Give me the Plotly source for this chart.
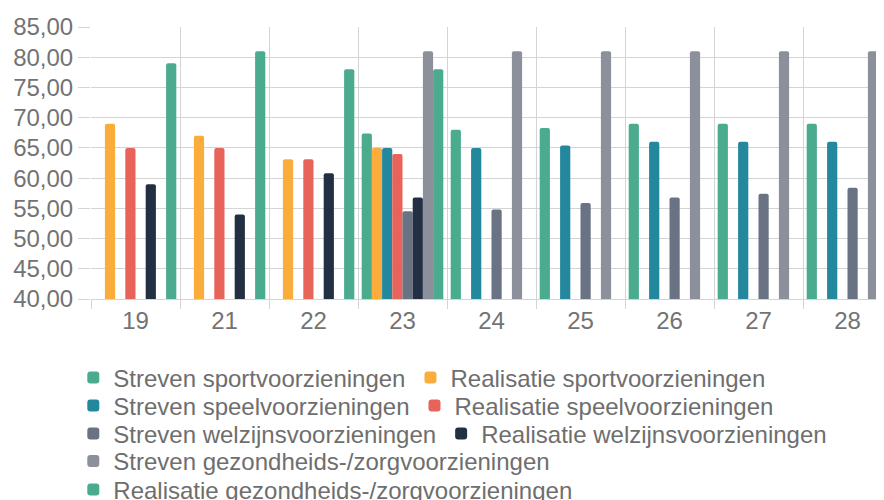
import plotly.graph_objects as go

categories = ["19", "21", "22", "23", "24", "25", "26", "27", "28"]

streven_sport = [None, None, None, 67.4, 68.0, 68.3, 69.0, 69.0, 69.0]
realisatie_sport = [69.0, 67.0, 63.1, 65.0, None, None, None, None, None]
streven_speel = [None, None, None, 65.0, 65.0, 65.4, 66.0, 66.0, 66.0]
realisatie_speel = [65.0, 65.0, 63.1, 64.0, None, None, None, None, None]
streven_welzijn = [None, None, None, 54.5, 54.8, 55.9, 56.8, 57.4, 58.4]
realisatie_welzijn = [59.0, 54.0, 60.8, 56.8, None, None, None, None, None]
streven_gezond = [None, None, None, 81.0, 81.0, 81.0, 81.0, 81.0, 81.0]
realisatie_gezond = [79.0, 81.0, 78.0, 78.0, None, None, None, None, None]

series_names = [
    "Streven sportvoorzieningen",
    "Realisatie sportvoorzieningen",
    "Streven speelvoorzieningen",
    "Realisatie speelvoorzieningen",
    "Streven welzijnsvoorzieningen",
    "Realisatie welzijnsvoorzieningen",
    "Streven gezondheids-/zorgvoorzieningen",
    "Realisatie gezondheids-/zorgvoorzieningen",
]
series_values = [
    streven_sport, realisatie_sport, streven_speel, realisatie_speel,
    streven_welzijn, realisatie_welzijn, streven_gezond, realisatie_gezond,
]
colors = ["#4bab8f", "#fbad3b", "#23879e", "#e8635a",
          "#6a7384", "#233044", "#8b909a", "#4bab8f"]
legend_ids = ["legend", "legend", "legend2", "legend2",
              "legend3", "legend3", "legend4", "legend5"]

fig = go.Figure()
for name, vals, col, lg in zip(series_names, series_values, colors, legend_ids):
    fig.add_bar(x=categories, y=vals, name=name, legend=lg,
                marker=dict(color=col, line_width=0, cornerradius=2))

# page body adds an 8px offset; figure sized to fill the remaining window
W, H = 876, 492
L, T, B = 83, 19, 201
plot_h = H - T - B
plot_w = W - L
cat_px = 89.0

grid = "#d4d4d4"
font_family = "Liberation Sans, Arial, sans-serif"
tick_font = dict(family=font_family, size=24, color="#737373")

layout_legends = {}
row_centers = [370, 398, 426, 453.5, 482]  # figure pixel rows
for i, yc in enumerate(row_centers):
    key = "legend" if i == 0 else f"legend{i + 1}"
    layout_legends[key] = dict(
        orientation="h", x=(65.3 - L) / plot_w, xanchor="left",
        y=(T + plot_h - yc) / plot_h, yanchor="middle",
        bgcolor="rgba(0,0,0,0)", borderwidth=0,
        font=dict(family=font_family, size=24, color="#6e6e6e"),
    )

fig.update_layout(
    width=W, height=H,
    margin=dict(l=L, r=0, t=T, b=B, autoexpand=False),
    paper_bgcolor="white", plot_bgcolor="white",
    barmode="group", bargap=0.083, bargroupgap=0,
    separators=",.",
    showlegend=True,
    xaxis=dict(
        type="category", range=[-0.5, -0.5 + plot_w / cat_px],
        tickson="boundaries", showgrid=True, gridcolor=grid, gridwidth=1.3,
        ticks="outside", ticklen=9, tickcolor=grid, tickwidth=1.3,
        showline=True, linecolor=grid, linewidth=1.3,
        tickfont=tick_font, fixedrange=True,
    ),
    yaxis=dict(
        range=[40, 85], tick0=40, dtick=5, tickformat=".2f",
        showgrid=True, gridcolor=grid, gridwidth=1.3, zeroline=False,
        ticks="outside", ticklen=12, tickcolor=grid, tickwidth=1.3,
        showline=False, tickfont=tick_font, fixedrange=True,
    ),
    **layout_legends,
)

fig.write_html("out.html")
